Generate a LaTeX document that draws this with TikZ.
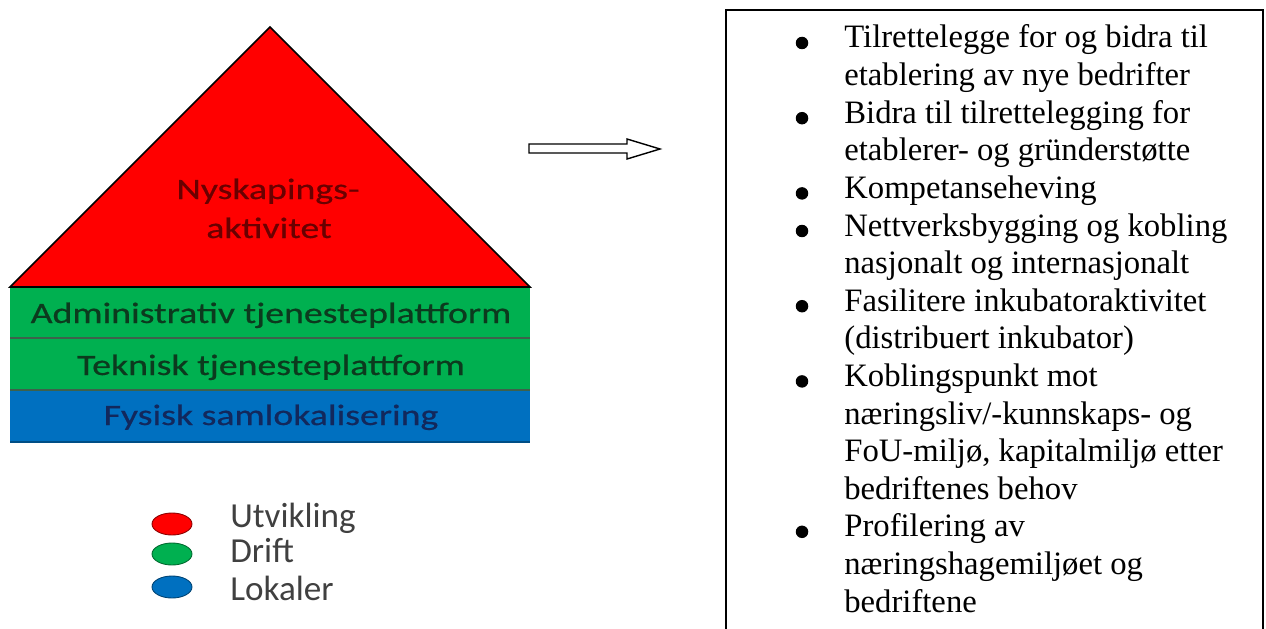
\documentclass[tikz,border=0pt]{standalone}
\usepackage{fontspec}
\setmainfont{Liberation Serif}
\newfontfamily\housefont[FakeStretch=1.28, FakeBold=0.6]{Carlito}
\newfontfamily\legfont{Carlito}
\usetikzlibrary{shapes.geometric, positioning}

\definecolor{roofred}{RGB}{255,0,0}
\definecolor{driftgreen}{RGB}{0,176,80}
\definecolor{lokblue}{RGB}{0,112,192}
\definecolor{roofink}{RGB}{105,0,0}
\definecolor{greenink}{RGB}{12,58,30}
\definecolor{blueink}{RGB}{18,40,92}
\definecolor{legink}{RGB}{64,64,64}

\begin{document}
\begin{tikzpicture}[x=0.02cm, y=-0.02cm,
    housetxt/.style={font=\housefont\fontsize{16.8}{20}\selectfont,
                     inner sep=0pt, anchor=base},
    legdot/.style={ellipse, minimum width=0.8cm, minimum height=0.44cm,
                   inner sep=0pt, line width=0.5pt},
    legtxt/.style={font=\legfont\fontsize{20}{24}\selectfont,
                   text=legink, inner sep=0pt, anchor=base west},
    listline/.style={font=\fontsize{18.6}{21.4}\selectfont,
                     inner sep=0pt, anchor=base west},
    listdot/.style={circle, fill=black, minimum size=0.25cm, inner sep=0pt}]
  \useasboundingbox (0,0) rectangle (1266,628);

  % house: roof and three layers
  \fill[driftgreen] (10,287) rectangle (530,390);
  \fill[lokblue] (10,390) rectangle (530,442);
  \draw[greenink!80, line width=0.6pt] (10,338) -- (530,338);
  \draw[greenink!80, line width=0.6pt] (10,390) -- (530,390);
  \draw[lokblue!70!black, line width=0.6pt] (10,442) -- (530,442);
  \filldraw[fill=roofred, line width=0.9pt, line join=miter]
    (10,287) -- (270,27) -- (530,287) -- cycle;
  \draw[line width=1.7pt] (10,287) -- (530,287);

  \node[housetxt, text=roofink] (nysk) at (268,199) {Nyskapings-};
  \node[housetxt, text=roofink] (akt) at (269,238) {aktivitet};
  \node[housetxt, text=greenink] (adm) at (271,323) {Administrativ tjenesteplattform};
  \node[housetxt, text=greenink] (tek) at (271,375) {Teknisk tjenesteplattform};
  \node[housetxt, text=blueink] (fys) at (271,425) {Fysisk samlokalisering};

  % legend
  \node[legdot, fill=roofred, draw=roofred!55!black] (utv) at (172,524) {};
  \node[legdot, fill=driftgreen, draw=driftgreen!60!black] (dri) at (172,554) {};
  \node[legdot, fill=lokblue, draw=lokblue!60!black] (lok) at (172,587) {};
  \node[legtxt] (utvtxt) at (230,527) {Utvikling};
  \node[legtxt] (dritxt) at (230,562) {Drift};
  \node[legtxt] (loktxt) at (230,600) {Lokaler};

  % block arrow
  \draw[line width=0.8pt, fill=white, line join=miter]
    (529,144) -- (627,144) -- (627,139) -- (660,149) -- (627,159)
    -- (627,153) -- (529,153) -- cycle;

  % list box
  \draw[line width=1.1pt] (726,650) |- (1263,10) -- (1263,650);
  \foreach \txt [count=\i from 0] in {%
      {Tilrettelegge for og bidra til}, {etablering av nye bedrifter},
      {Bidra til tilrettelegging for}, {etablerer- og gründerstøtte},
      {Kompetanseheving},
      {Nettverksbygging og kobling}, {nasjonalt og internasjonalt},
      {Fasilitere inkubatoraktivitet}, {(distribuert inkubator)},
      {Koblingspunkt mot}, {næringsliv/-kunnskaps- og},
      {FoU-miljø, kapitalmiljø etter}, {bedriftenes behov},
      {Profilering av}, {næringshagemiljøet og}, {bedriftene}}
    \node[listline] (line\i) at (844,{48+\i*37.6}) {\txt};
  \foreach \i in {0,2,4,5,7,9,13}
    \node[listdot] (dot\i) at (802,{43+\i*37.6}) {};
\end{tikzpicture}
\end{document}
